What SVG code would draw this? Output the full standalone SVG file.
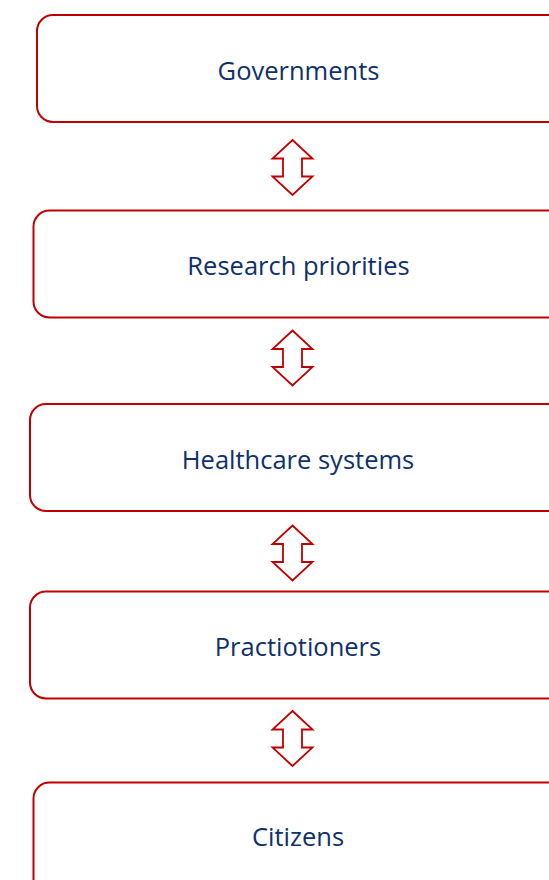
<svg xmlns="http://www.w3.org/2000/svg" width="549" height="880" viewBox="0 0 549 880">
<style>
.box{fill:#fff;stroke:#C00000;stroke-width:2}
.lbl{font-family:"Open Sans","DejaVu Sans",sans-serif;font-size:25.5px;fill:#10306A;text-anchor:middle}
.arr{fill:#fff;stroke:#C00000;stroke-width:1.8;stroke-linejoin:miter}
</style>
<defs>
<polygon id="dbl" class="arr" points="0,0 20,18.5 9.5,18.5 9.5,36.5 20,36.5 0,55 -20,36.5 -9.5,36.5 -9.5,18.5 -20,18.5"/>
</defs>
<rect width="549" height="880" fill="#fff"/>
<g id="governments"><rect class="box" x="37" y="15" width="540" height="107" rx="16"/><text class="lbl" x="298.5" y="79.5">Governments</text></g>
<g id="research"><rect class="box" x="33.5" y="210.5" width="540" height="107" rx="16"/><text class="lbl" x="298.5" y="275">Research priorities</text></g>
<g id="healthcare"><rect class="box" x="30" y="404" width="540" height="107" rx="16"/><text class="lbl" x="298" y="469">Healthcare systems</text></g>
<g id="practitioners"><rect class="box" x="30" y="591.5" width="540" height="107" rx="16"/><text class="lbl" x="298" y="656">Practiotioners</text></g>
<g id="citizens"><rect class="box" x="33.5" y="782.5" width="540" height="140" rx="16"/><text class="lbl" x="298" y="846">Citizens</text></g>
<g id="connectors">
<use href="#dbl" x="292.5" y="140"/>
<use href="#dbl" x="292.5" y="330.5"/>
<use href="#dbl" x="292.5" y="525.5"/>
<use href="#dbl" x="292.5" y="711"/>
</g>
</svg>
